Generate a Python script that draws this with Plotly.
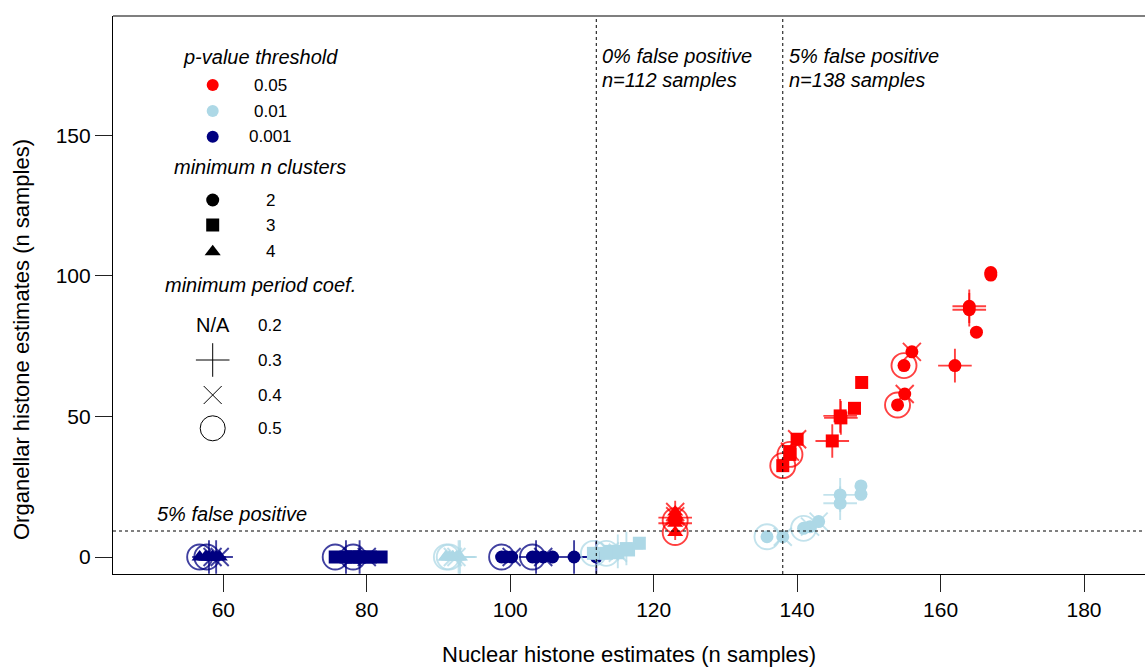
import plotly.graph_objects as go

# ---------------- data ----------------
# p-value 0.001 (navy)
navy_c4_x = [57.5, 58.5, 58.0, 59.0, 58.5, 59.5, 56.7, 57.7]
navy_c4_y = [0, 0, 0, 0, 0, 0, 0, 0]
navy_c4_coef = [0.2, 0.2, 0.3, 0.3, 0.4, 0.4, 0.5, 0.5]
navy_c3_x = [80.5, 82.0, 77.1, 79.0, 78.0, 80.0, 75.6, 78.1]
navy_c3_y = [0, 0, 0, 0, 0, 0, 0, 0]
navy_c3_coef = [0.2, 0.2, 0.3, 0.3, 0.4, 0.4, 0.5, 0.5]
navy_c2_x = [99.4, 105.9, 103.6, 108.9, 112.0, 100.2, 104.6, 98.8, 103.1]
navy_c2_y = [0, 0, 0, 0, 0, 0, 0, 0, 0]
navy_c2_coef = [0.2, 0.2, 0.3, 0.3, 0.3, 0.4, 0.4, 0.5, 0.5]

# p-value 0.01 (light blue)
lb_c4_x = [91.0, 92.0, 93.0, 92.8, 92.5, 92.0, 91.1, 91.5]
lb_c4_y = [0, 0, 0, 0, 0, 0, 0, 0]
lb_c4_coef = [0.2, 0.2, 0.3, 0.3, 0.4, 0.4, 0.5, 0.5]
lb_c3_x = [118.0, 116.5, 116.2, 115.0, 113.9, 115.0, 111.6, 113.4]
lb_c3_y = [4.9, 2.5, 3.0, 2.0, 2.0, 1.5, 1.3, 1.3]
lb_c3_coef = [0.2, 0.2, 0.3, 0.3, 0.4, 0.4, 0.5, 0.5]
lb_c2_x = [148.9, 148.9, 146.0, 146.0, 138.0, 143.0, 141.8, 135.8, 140.9]
lb_c2_y = [25.3, 22.3, 22.1, 19.1, 7.2, 12.6, 10.8, 7.2, 10.2]
lb_c2_coef = [0.2, 0.2, 0.3, 0.3, 0.4, 0.4, 0.4, 0.5, 0.5]

# p-value 0.05 (red)
red_c4_x = [123.0, 123.0, 123.0, 123.0, 123.0, 123.0, 123.0, 123.0]
red_c4_y = [13.0, 15.0, 12.0, 14.0, 16.0, 14.5, 8.7, 13.0]
red_c4_coef = [0.2, 0.2, 0.3, 0.3, 0.4, 0.4, 0.5, 0.5]
red_c3_x = [149.0, 148.0, 146.0, 146.1, 144.9, 140.0, 139.0, 139.0, 138.0]
red_c3_y = [62.1, 52.9, 50.2, 49.5, 41.3, 41.9, 37.5, 36.5, 32.5]
red_c3_coef = [0.2, 0.2, 0.3, 0.3, 0.3, 0.4, 0.4, 0.5, 0.5]
red_c2_x = [167.0, 167.0, 165.0, 164.0, 164.0, 162.0, 156.0, 155.0, 154.9, 154.0]
red_c2_y = [100.3, 101.2, 80.0, 88.0, 89.2, 68.1, 73.0, 58.0, 68.1, 54.1]
red_c2_coef = [0.2, 0.2, 0.2, 0.3, 0.3, 0.3, 0.4, 0.4, 0.5, 0.5]

pvalue_labels = ["0.05", "0.01", "0.001"]
cluster_labels = ["2", "3", "4"]
coef_labels = ["0.2", "0.3", "0.4", "0.5"]
x_ticks = [60, 80, 100, 120, 140, 160, 180]
y_ticks = [0, 50, 100, 150]
vline_zero_fp = 112
vline_five_fp = 138
hline_five_fp = 9.25

# ---------------- styling ----------------
COLORS = {"0.05": "#FF0000", "0.01": "#ADD8E6", "0.001": "#000080"}
SHAPES = {2: ("circle", 13), 3: ("square", 13), 4: ("triangle-up", 14)}
OVERLAY = {0.3: ("cross-thin-open", 24), 0.4: ("x-thin-open", 18), 0.5: ("circle-open", 25)}
FONT = "Liberation Sans, Arial, Helvetica, sans-serif"

series = [
    ("0.001", 4, navy_c4_x, navy_c4_y, navy_c4_coef),
    ("0.001", 3, navy_c3_x, navy_c3_y, navy_c3_coef),
    ("0.001", 2, navy_c2_x, navy_c2_y, navy_c2_coef),
    ("0.01", 4, lb_c4_x, lb_c4_y, lb_c4_coef),
    ("0.01", 3, lb_c3_x, lb_c3_y, lb_c3_coef),
    ("0.01", 2, lb_c2_x, lb_c2_y, lb_c2_coef),
    ("0.05", 4, red_c4_x, red_c4_y, red_c4_coef),
    ("0.05", 3, red_c3_x, red_c3_y, red_c3_coef),
    ("0.05", 2, red_c2_x, red_c2_y, red_c2_coef),
]

fig = go.Figure()

for pv, cl, xs, ys, cf in series:
    col = COLORS[pv]
    for c, (sym, size) in OVERLAY.items():
        ox = [x for x, k in zip(xs, cf) if k == c]
        oy = [y for y, k in zip(ys, cf) if k == c]
        if ox:
            fig.add_trace(go.Scatter(
                x=ox, y=oy, mode="markers", showlegend=False, hoverinfo="skip",
                marker=dict(symbol=sym, size=size, color=col, opacity=0.75,
                            line=dict(width=1.9, color=col))))
    sym, size = SHAPES[cl]
    fig.add_trace(go.Scatter(
        x=xs, y=ys, mode="markers", showlegend=False,
        marker=dict(symbol=sym, size=size, color=col, line=dict(width=0))))

# ---------------- legend (pixel overlay axes, page pixel coords) ----------------
W, H = 1145, 667
PL, PR, PT, PB = 113, 1145, 16, 574   # plot area in page pixels
LX = 212.7
VX = 270
legend_rows = [85, 111, 136.7]
for lbl, yy in zip(pvalue_labels, legend_rows):
    fig.add_trace(go.Scatter(x=[LX], y=[yy], xaxis="x2", yaxis="y2", mode="markers",
                             showlegend=False, hoverinfo="skip",
                             marker=dict(symbol="circle", size=12, color=COLORS[lbl])))
cl_rows = [200, 225, 251.7]
for lbl, yy in zip(cluster_labels, cl_rows):
    sym, size = SHAPES[int(lbl)]
    fig.add_trace(go.Scatter(x=[LX], y=[yy], xaxis="x2", yaxis="y2", mode="markers",
                             showlegend=False, hoverinfo="skip",
                             marker=dict(symbol=sym, size=size, color="black")))
coef_rows = [325, 360, 395, 428.3]
for lbl, yy in zip(coef_labels[1:], coef_rows[1:]):
    sym, size = OVERLAY[float(lbl)]
    fig.add_trace(go.Scatter(x=[LX], y=[yy], xaxis="x2", yaxis="y2", mode="markers",
                             showlegend=False, hoverinfo="skip",
                             marker=dict(symbol=sym, size=size, color="black",
                                         line=dict(width=1, color="black"))))

ann = []
def txt(x, y, s, size=17, italic=False, xanchor="center", xref="x2", yref="y2", xshift=0, yshift=0):
    ann.append(dict(x=x, y=y, xref=xref, yref=yref, text=s, showarrow=False,
                    xanchor=xanchor, yanchor="middle", xshift=xshift, yshift=yshift,
                    font=dict(family=FONT, size=size, color="black",
                              style="italic" if italic else "normal")))

txt(260, 56.7, "p-value threshold", 20, True)
for lbl, yy in zip(pvalue_labels, legend_rows):
    txt(VX, yy, lbl, 17)
txt(260, 167, "minimum n clusters", 20, True)
for lbl, yy in zip(cluster_labels, cl_rows):
    txt(VX, yy, lbl, 17)
txt(260, 285, "minimum period coef.", 20, True)
txt(LX, coef_rows[0], "N/A", 20)
for lbl, yy in zip(coef_labels, coef_rows):
    txt(VX, yy, lbl, 17)

txt(vline_zero_fp, 56, "0% false positive", 20, True, "left", "x", "y2", xshift=4)
txt(vline_zero_fp, 80, "n=112 samples", 20, True, "left", "x", "y2", xshift=4)
txt(vline_five_fp, 56, "5% false positive", 20, True, "left", "x", "y2", xshift=4)
txt(vline_five_fp, 80, "n=138 samples", 20, True, "left", "x", "y2", xshift=4)
txt(155, hline_five_fp, "5% false positive", 20, True, "left", "x2", "y", yshift=17)

# axis titles (paper coords)
ann.append(dict(x=(629 - PL) / (PR - PL), y=(PB - 654) / (PB - PT), xref="paper", yref="paper",
                text="Nuclear histone estimates (n samples)", showarrow=False,
                xanchor="center", yanchor="middle",
                font=dict(family=FONT, size=22, color="black")))
ann.append(dict(x=(22 - PL) / (PR - PL), y=(PB - 340) / (PB - PT), xref="paper", yref="paper",
                text="Organellar histone estimates (n samples)", showarrow=False,
                textangle=-90, xanchor="center", yanchor="middle",
                font=dict(family=FONT, size=22, color="black")))

shapes = [
    dict(type="line", xref="x", yref="paper", x0=vline_zero_fp, x1=vline_zero_fp, y0=0, y1=1,
         line=dict(color="black", width=1, dash="3px,3px")),
    dict(type="line", xref="x", yref="paper", x0=vline_five_fp, x1=vline_five_fp, y0=0, y1=1,
         line=dict(color="black", width=1, dash="3px,3px")),
    dict(type="line", xref="paper", yref="y", x0=0, x1=1, y0=hline_five_fp, y1=hline_five_fp,
         line=dict(color="black", width=1, dash="3px,3px")),
    dict(type="line", xref="paper", yref="paper", x0=0, x1=1, y0=1, y1=1,
         line=dict(color="black", width=1.2)),
]

fig.update_layout(
    width=W, height=H,
    margin=dict(l=PL, r=W - PR, t=PT, b=H - PB),
    paper_bgcolor="white", plot_bgcolor="white",
    showlegend=False,
    annotations=ann, shapes=shapes,
    xaxis=dict(range=[44.62, 188.5], tickvals=x_ticks, ticks="outside", ticklen=17,
               tickwidth=1, tickcolor="#222", showgrid=False, zeroline=False,
               showline=True, linecolor="black", linewidth=1.2,
               tickfont=dict(family=FONT, size=21, color="black")),
    yaxis=dict(range=[-6.05, 192.5], tickvals=y_ticks, ticks="outside", ticklen=17,
               tickwidth=1, tickcolor="#222", showgrid=False, zeroline=False,
               showline=True, linecolor="black", linewidth=1.2,
               tickfont=dict(family=FONT, size=21, color="black")),
    xaxis2=dict(range=[PL, PR], overlaying="x", anchor="y2", visible=False, fixedrange=True),
    yaxis2=dict(range=[PB, PT], overlaying="y", anchor="x2", visible=False, fixedrange=True),
)

# remove the default page margin so the figure sits at the window's top-left corner
fig.write_html("out.html", config={"displayModeBar": False},
               post_script="document.body.style.margin='0';document.body.style.overflow='hidden';")
